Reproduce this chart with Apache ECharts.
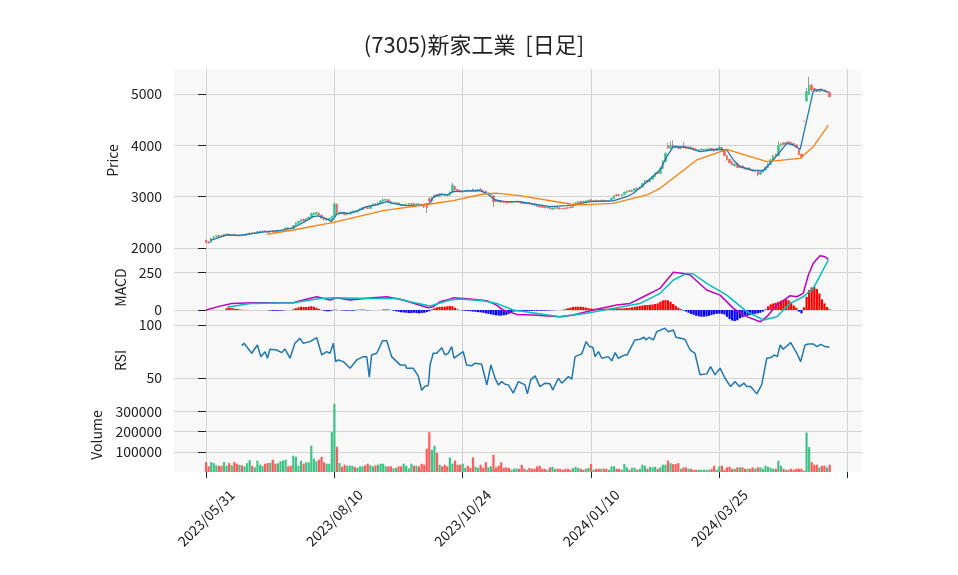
<!DOCTYPE html>
<html>
<head>
<meta charset="utf-8">
<title>(7305)新家工業 [日足]</title>
<script src="https://cdn.jsdelivr.net/npm/echarts@6/dist/echarts.min.js"></script>
<style>
html, body { margin: 0; padding: 0; background: #fff; }
#chart { width: 958px; height: 575px; }
</style>
</head>
<body>
<div id="chart"></div>
<script>
// 営業日
const dates = [
  '2023/05/31',
  '2023/06/01','2023/06/02','2023/06/05','2023/06/06','2023/06/07','2023/06/08','2023/06/09','2023/06/12','2023/06/13','2023/06/14',
  '2023/06/15','2023/06/16','2023/06/19','2023/06/20','2023/06/21','2023/06/22','2023/06/23','2023/06/26','2023/06/27','2023/06/28',
  '2023/06/29','2023/06/30',
  '2023/07/03','2023/07/04','2023/07/05','2023/07/06','2023/07/07','2023/07/10','2023/07/11','2023/07/12','2023/07/13','2023/07/14',
  '2023/07/18','2023/07/19','2023/07/20','2023/07/21','2023/07/24','2023/07/25','2023/07/26','2023/07/27','2023/07/28','2023/07/31',
  '2023/08/01','2023/08/02','2023/08/03','2023/08/04','2023/08/07','2023/08/08','2023/08/09','2023/08/10','2023/08/14','2023/08/15',
  '2023/08/16','2023/08/17','2023/08/18','2023/08/21','2023/08/22','2023/08/23','2023/08/24','2023/08/25','2023/08/28','2023/08/29',
  '2023/08/30','2023/08/31',
  '2023/09/01','2023/09/04','2023/09/05','2023/09/06','2023/09/07','2023/09/08','2023/09/11','2023/09/12','2023/09/13','2023/09/14',
  '2023/09/15','2023/09/19','2023/09/20','2023/09/21','2023/09/22','2023/09/25','2023/09/26','2023/09/27','2023/09/28','2023/09/29',
  '2023/10/02','2023/10/03','2023/10/04','2023/10/05','2023/10/06','2023/10/10','2023/10/11','2023/10/12','2023/10/13','2023/10/16',
  '2023/10/17','2023/10/18','2023/10/19','2023/10/20','2023/10/23','2023/10/24','2023/10/25','2023/10/26','2023/10/27','2023/10/30',
  '2023/10/31',
  '2023/11/01','2023/11/02','2023/11/06','2023/11/07','2023/11/08','2023/11/09','2023/11/10','2023/11/13','2023/11/14','2023/11/15',
  '2023/11/16','2023/11/17','2023/11/20','2023/11/21','2023/11/22','2023/11/24','2023/11/27','2023/11/28','2023/11/29','2023/11/30',
  '2023/12/01','2023/12/04','2023/12/05','2023/12/06','2023/12/07','2023/12/08','2023/12/11','2023/12/12','2023/12/13','2023/12/14',
  '2023/12/15','2023/12/18','2023/12/19','2023/12/20','2023/12/21','2023/12/22','2023/12/25','2023/12/26','2023/12/27','2023/12/28',
  '2023/12/29',
  '2024/01/04','2024/01/05','2024/01/09','2024/01/10','2024/01/11','2024/01/12','2024/01/15','2024/01/16','2024/01/17','2024/01/18',
  '2024/01/19','2024/01/22','2024/01/23','2024/01/24','2024/01/25','2024/01/26','2024/01/29','2024/01/30','2024/01/31',
  '2024/02/01','2024/02/02','2024/02/05','2024/02/06','2024/02/07','2024/02/08','2024/02/09','2024/02/13','2024/02/14','2024/02/15',
  '2024/02/16','2024/02/19','2024/02/20','2024/02/21','2024/02/22','2024/02/26','2024/02/27','2024/02/28','2024/02/29',
  '2024/03/01','2024/03/04','2024/03/05','2024/03/06','2024/03/07','2024/03/08','2024/03/11','2024/03/12','2024/03/13','2024/03/14',
  '2024/03/15','2024/03/18','2024/03/19','2024/03/21','2024/03/22','2024/03/25','2024/03/26','2024/03/27','2024/03/28','2024/03/29',
  '2024/04/01','2024/04/02','2024/04/03','2024/04/04','2024/04/05','2024/04/08','2024/04/09','2024/04/10','2024/04/11','2024/04/12',
  '2024/04/15','2024/04/16','2024/04/17','2024/04/18','2024/04/19','2024/04/22','2024/04/23','2024/04/24','2024/04/25','2024/04/26',
  '2024/04/30',
  '2024/05/01','2024/05/02','2024/05/07','2024/05/08','2024/05/09','2024/05/10','2024/05/13','2024/05/14','2024/05/15','2024/05/16',
  '2024/05/17','2024/05/20','2024/05/21','2024/05/22','2024/05/23','2024/05/24','2024/05/27','2024/05/28'
];

// 始値・終値・安値・高値
const openP = [
  2150,2120,2110,2190,2220,2250,2240,2230,2250,2270, 2240,2265,2250,2235,2255,2240,2250,2265,2295,2280,
  2290,2310,2320,2335,2320,2305,2330,2320,2300,2325, 2340,2355,2395,2380,2375,2440,2480,2510,2560,2530,
  2565,2600,2650,2660,2680,2640,2590,2545,2560,2560, 2610,2850,2670,2700,2680,2650,2670,2690,2720,2700,
  2730,2750,2800,2790,2770,2820,2860,2840,2870,2910, 2930,2940,2900,2860,2870,2880,2850,2830,2840,2850,
  2850,2870,2840,2860,2840,2830,2830,2960,2920,2990, 3040,3010,3060,3050,3040,3030,3090,3200,3140,3120,
  3090,3100,3130,3120,3140,3100,3120,3150,3120,3110, 3050,3030,3020,2940,2930,2920,2910,2900,2900,2880,
  2890,2895,2910,2900,2880,2860,2880,2865,2855,2840, 2820,2810,2800,2780,2790,2750,2770,2790,2780,2770,
  2780,2790,2800,2790,2830,2870,2910,2910,2895,2910, 2940,2910,2930,2925,2910,2935,2925,2910,2920,2960,
  3040,3040,3020,3040,3080,3120,3100,3120,3170,3150, 3190,3250,3320,3290,3340,3390,3480,3450,3550,3690,
  3990,3940,4010,3990,3980,3940,3990,3970,3940,3970, 3950,3930,3900,3910,3900,3910,3920,3940,3930,3900,
  3930,3960,3900,3800,3730,3680,3600,3640,3570,3600, 3570,3530,3560,3530,3490,3500,3440,3480,3520,3570,
  3630,3720,3830,3800,3990,4050,4020,4070,4060,4040, 4010,3920,3830,4475,4870,4990,5170,5110,5090,5050,
  5100,5080,5040,5040
];
const closeP = [
  2110,2100,2190,2220,2240,2230,2225,2260,2270,2250, 2260,2245,2235,2250,2240,2255,2270,2290,2280,2295,
  2320,2325,2330,2315,2305,2325,2310,2300,2330,2345, 2360,2390,2375,2370,2440,2490,2520,2550,2530,2570,
  2600,2670,2680,2690,2640,2580,2550,2570,2580,2620, 2860,2680,2700,2670,2650,2680,2700,2720,2700,2730,
  2760,2790,2780,2770,2830,2860,2840,2880,2920,2940, 2950,2900,2870,2880,2885,2850,2830,2850,2860,2865,
  2870,2840,2860,2830,2820,2800,2790,2910,2990,3030, 3010,3050,3040,3030,3020,3090,3230,3130,3110,3090,
  3110,3120,3110,3100,3110,3130,3140,3120,3100,3060, 3070,3050,2900,2910,2900,2890,2890,2880,2880,2900,
  2905,2910,2890,2870,2865,2875,2860,2850,2835,2815, 2800,2790,2785,2795,2765,2780,2790,2770,2760,2760,
  2765,2775,2785,2830,2880,2900,2890,2895,2920,2930, 2910,2925,2915,2910,2930,2915,2910,2925,2970,3020,
  3020,3025,3040,3090,3110,3100,3130,3160,3150,3190, 3260,3310,3290,3350,3400,3460,3450,3560,3700,3850,
  3950,4000,3970,3960,3940,3980,3960,3940,3970,3940, 3920,3910,3920,3930,3920,3930,3940,3910,3890,3930,
  3970,3880,3800,3720,3660,3620,3640,3570,3600,3560, 3540,3560,3520,3500,3510,3430,3490,3530,3580,3640,
  3720,3800,3790,4000,4030,4020,4060,4040,4030,4000, 3960,3820,3770,4470,5050,5180,5080,5070,5050,5090,
  5070,5050,5060,4950
];
const lowP = [
  2100,2090,2100,2180,2210,2220,2215,2220,2240,2240, 2235,2240,2225,2230,2235,2235,2245,2260,2270,2275,
  2285,2305,2315,2310,2295,2300,2300,2290,2295,2320, 2335,2350,2365,2360,2370,2430,2470,2505,2520,2525,
  2555,2595,2640,2650,2630,2570,2540,2535,2550,2550, 2600,2660,2660,2660,2640,2640,2665,2685,2690,2695,
  2725,2745,2770,2760,2765,2815,2830,2835,2865,2905, 2920,2890,2860,2855,2860,2840,2820,2825,2835,2845,
  2845,2835,2835,2825,2810,2780,2680,2880,2910,2980, 3000,3000,3030,3020,3010,3025,3080,3120,3100,3080,
  3085,3095,3100,3090,3100,3095,3115,3110,3090,3050, 3040,3020,2800,2900,2890,2880,2880,2870,2870,2875,
  2885,2890,2880,2860,2855,2855,2850,2840,2825,2805, 2790,2780,2775,2775,2755,2740,2765,2760,2750,2750,
  2760,2770,2780,2785,2825,2865,2880,2890,2890,2905, 2900,2905,2910,2905,2905,2910,2905,2905,2915,2955,
  3010,3015,3015,3035,3075,3090,3095,3115,3140,3145, 3185,3245,3280,3285,3335,3385,3440,3445,3545,3685,
  3930,3930,3960,3950,3930,3935,3950,3930,3935,3930, 3910,3900,3895,3905,3895,3905,3915,3900,3880,3895,
  3925,3870,3790,3700,3650,3610,3590,3560,3560,3550, 3530,3520,3510,3490,3480,3400,3430,3470,3510,3560,
  3620,3710,3780,3790,3980,4010,4010,4030,4020,3990, 3950,3810,3740,4470,4850,4980,5050,5050,5040,5040,
  5060,5040,5030,4940
];
const highP = [
  2160,2130,2200,2240,2250,2260,2250,2270,2280,2280, 2270,2270,2260,2260,2265,2265,2280,2300,2305,2305,
  2330,2335,2345,2345,2330,2335,2340,2325,2340,2355, 2370,2400,2405,2390,2450,2500,2530,2560,2570,2580,
  2610,2690,2700,2710,2690,2650,2600,2580,2590,2630, 2890,2870,2710,2710,2690,2690,2710,2730,2730,2740,
  2770,2800,2810,2800,2840,2870,2870,2890,2930,2970, 2960,2950,2910,2890,2895,2890,2860,2860,2870,2875,
  2880,2880,2870,2870,2850,2840,2840,2990,3000,3040, 3050,3060,3070,3060,3050,3100,3270,3210,3150,3130,
  3120,3130,3140,3130,3160,3140,3150,3160,3130,3120, 3080,3060,3030,2950,2940,2930,2920,2910,2910,2910,
  2915,2920,2920,2905,2890,2885,2890,2870,2860,2850, 2830,2820,2810,2805,2800,2790,2800,2800,2790,2780,
  2790,2800,2810,2840,2890,2910,2920,2920,2930,2940, 2950,2935,2940,2930,2940,2940,2930,2935,2980,3030,
  3050,3050,3050,3100,3120,3130,3140,3170,3180,3200, 3270,3320,3330,3360,3410,3470,3490,3570,3710,3860,
  4050,4080,4100,4000,3990,3990,4070,3980,3980,3980, 3960,3940,3930,3940,3930,3940,3950,3950,3940,3940,
  4010,3970,3910,3810,3740,3690,3650,3650,3610,3610, 3580,3570,3570,3540,3520,3510,3500,3540,3590,3650,
  3730,3810,3840,4080,4050,4060,4070,4080,4070,4050, 4020,3930,3840,4475,5120,5340,5200,5120,5100,5100,
  5110,5090,5070,5050
];

// 出来高
const volume = [
  49000,28000,49000,44000,33000,31000,31000,49000,31000,44000, 33000,49000,41000,36000,33000,28000,44000,59000,31000,23000,
  56000,36000,30000,41000,44000,46000,61000,41000,43000,53000, 57000,61000,28000,31000,80000,75000,31000,56000,41000,48000,
  48000,130000,66000,53000,61000,75000,48000,41000,41000,197000, 337000,125000,44000,26000,36000,31000,31000,31000,25000,21000,
  28000,28000,33000,41000,33000,28000,33000,36000,41000,41000, 28000,28000,28000,18000,21000,28000,28000,41000,31000,18000,
  41000,31000,31000,28000,41000,36000,115000,197000,110000,130000, 95000,36000,28000,36000,28000,72000,41000,56000,36000,36000,
  41000,21000,31000,20000,72000,26000,21000,36000,20000,49000, 23000,28000,85000,23000,31000,48000,20000,23000,20000,11000,
  16000,18000,16000,36000,16000,11000,20000,16000,16000,28000, 31000,16000,16000,11000,23000,26000,16000,16000,16000,11000,
  16000,16000,11000,20000,26000,20000,16000,11000,16000,20000, 39000,11000,16000,16000,16000,16000,16000,11000,28000,28000,
  16000,16000,11000,39000,23000,11000,21000,21000,11000,16000, 36000,31000,16000,26000,23000,26000,16000,23000,36000,36000,
  56000,44000,39000,39000,44000,16000,23000,23000,16000,16000, 11000,11000,11000,11000,11000,11000,11000,16000,31000,11000,
  28000,31000,11000,23000,26000,16000,16000,23000,23000,23000, 16000,16000,16000,23000,16000,23000,23000,16000,31000,26000,
  20000,16000,16000,56000,31000,16000,11000,11000,16000,11000, 16000,16000,16000,6000,195000,123000,49000,36000,36000,23000,
  31000,31000,23000,36000
];

// MACDヒストグラム
const macdHist = [
  0,0,0,0,0,0,0,0,12,15, 13,10,7,4,2,1,1,0,0,0,
  0,0,0,0,-1,-4,-5,-5,-5,-4, -3,-1,0,0,5,12,18,22,20,20,
  22,25,22,15,8,2,-5,-8,-8,-4, 3,2,0,-3,-4,-4,-3,-5,-3,2,
  3,4,2,-2,-1,0,0,0,0,4, 5,4,0,-4,-8,-12,-15,-16,-18,-20,
  -20,-18,-20,-22,-20,-18,-14,-8,5,12, 18,20,22,22,25,27,25,15,5,0,
  -3,-5,-6,-8,-10,-12,-14,-15,-18,-22, -25,-28,-32,-35,-37,-37,-35,-32,-25,-18,
  -10,-8,-8,-7,-7,-6,-6,-6,-5,-5, -5,-5,-4,-4,-3,-2,-1,0,0,2,
  6,12,16,20,22,22,22,20,16,12, 10,8,8,8,8,8,9,9,10,12,
  12,11,10,12,14,15,18,22,24,27, 30,33,33,35,37,40,44,55,64,66,
  64,55,40,28,15,6,-3,-10,-18,-26, -32,-38,-42,-44,-44,-42,-38,-33,-28,-25,
  -24,-25,-30,-45,-60,-70,-73,-68,-55,-48, -42,-38,-33,-30,-25,-22,-18,-10,5,25,
  38,44,48,55,62,66,70,64,50,30, 15,-10,-22,18,88,133,150,155,140,110,
  71,44,20,4
];

// 移動平均（短期・長期）[日番号, 値]
const maShort = [
  [1.5,2150],[3.5,2180],[8,2254],[13,2245],[17,2275],[23.6,2318],[30,2350],[34,2395],[37.9,2500],[41.8,2611],
  [43.5,2628],[46,2590],[48.9,2520],[49.6,2546],[50.9,2655],[53.5,2688],[56,2670],[59,2727],[62.6,2805],[66.5,2839],
  [70.4,2903],[73,2871],[76.8,2832],[82.1,2825],[87.3,2871],[88.5,2988],[91.1,3047],[93.8,3034],[96.3,3098],[102.8,3112],
  [106.7,3117],[109.4,3067],[112.6,2936],[115.8,2910],[122.3,2904],[127.5,2858],[134,2805],[140.5,2825],[144.4,2852],[149.6,2904],
  [158.7,2917],[163.9,3000],[166.5,3067],[170.4,3229],[176.9,3521],[179.5,3780],[182.1,3975],[187.3,3964],[192.5,3878],[199,3925],
  [202.9,3911],[205.5,3716],[208.1,3585],[212.6,3520],[217.1,3507],[221,3716],[226.3,4041],[228.8,4009],[231.5,3925],[236.6,5060],
  [239.2,5095],[242.5,5036]
];
const maLong = [
  [23.6,2267],[34,2351],[49.6,2501],[69,2727],[87.3,2858],[96.3,2922],[108,3053],[113,3068],[122.3,3020],[141.8,2858],
  [145.7,2839],[158.7,2872],[171.7,3034],[176.9,3164],[191.2,3716],[202.9,3924],[218.5,3683],[231.5,3749],[236.6,3975],[242.5,4398]
];

// MACD・シグナル [日番号, 値]
const macdLine = [
  [0,0],[5.4,26],[10,44],[18.4,48],[34,48],[37.9,66],[43.1,88],[48.3,66],[50.9,82],[56.1,66],
  [62.6,78],[70.4,88],[76.8,66],[82.1,38],[86.6,15],[88.5,22],[91.1,55],[95,71],[96.3,82],[102.8,73],
  [109.4,62],[113.2,33],[115.8,0],[121,-29],[127.5,-33],[137.9,-44],[143.1,-33],[150.9,0],[160,33],[165.2,44],
  [170.4,88],[176.9,144],[182.1,250],[186,243],[188.6,232],[195.1,133],[200.3,99],[205.5,11],[210.7,-44],[215.9,-78],
  [218.5,-44],[222.4,33],[227.6,95],[230.2,88],[232.7,111],[234.7,232],[236.6,310],[239.2,360],[241.2,353],[242.5,336]
];
const signalLine = [
  [8.3,18],[17.1,44],[34,48],[44.4,77],[49.6,82],[63.9,77],[74.3,77],[79.5,55],[87.3,27],[95,66],
  [98.9,73],[108,62],[113.2,44],[119.7,0],[137.9,-44],[148.3,-22],[158.7,11],[169.1,44],[176.9,111],[182.1,199],
  [187.3,243],[189.9,239],[195.1,177],[202.9,99],[210.7,-11],[217.2,-66],[222.4,-44],[227.6,44],[232.7,88],[236.6,144],
  [242.5,332]
];

// RSI [日番号, 値]
const rsiLine = [
  [13.9,80.5],[14.8,82.7],[17.8,73.3],[20,81.1],[21.3,70.1],[23,74.8],[23.9,68.6],[24.9,77.1],[27.5,76.4],[29.5,73.9],
  [30.7,77.4],[32.7,68.6],[34.6,82.7],[35.3,81.8],[36.6,87.4],[37.9,82.7],[40.5,84.3],[43.1,88],[45.1,71.7],[47,74.8],
  [48.3,73.3],[49.6,82.7],[50.5,65.4],[51.5,67],[53.5,65.4],[56.1,59.2],[58.7,67],[61.3,70.1],[62.6,70.1],[63.6,50.7],
  [64.5,71.7],[66.5,73.3],[68.8,85.2],[70.4,85.2],[72.3,70.1],[75.6,62.3],[77.5,62.3],[78.2,59.2],[80.7,59.2],[82.7,51.6],
  [84,38.4],[85.3,42.2],[86.6,42.8],[87.3,62.3],[88.5,73.3],[89.9,73.3],[91.8,78.6],[93.1,71.7],[94.4,73.3],[95.7,79.6],
  [96.6,68.6],[100.2,74.8],[101.5,62.3],[103.5,61.4],[104.8,63.9],[107.4,62.9],[109.4,43.4],[111,62.3],[112.6,49.8],[113.9,43.4],
  [115.2,46.5],[116.5,44],[117.8,43.4],[119.7,35.6],[121.7,46.5],[124.3,43.4],[125.2,34.9],[126.5,48.1],[128.2,51.9],[130.1,41.8],
  [132.1,45],[134,44.4],[135.1,38.7],[137.3,49.7],[138.6,45],[141.2,51.2],[142.5,48.8],[143.8,70.1],[146.4,72.7],[148.1,84.3],
  [149.4,79.6],[150.7,79],[151.6,70.1],[152.9,74.8],[154.2,68.6],[156.7,70.1],[158.1,66.1],[159.4,73.9],[160.6,68.6],[163.2,71.7],
  [164.1,71.7],[167.1,85.9],[169.1,86.5],[170.7,88.4],[171.4,85.9],[172.7,88.4],[174.3,85.9],[175.6,93.7],[178.8,96.9],[180.1,93.7],
  [182.1,95.3],[183.1,88.4],[186.6,86.5],[188.6,76.4],[190.5,73.3],[192.5,52.9],[195.1,53.8],[196.6,60.7],[198.3,52.9],[200.3,59.2],
  [202.2,49.7],[204.4,41.8],[206.1,46.5],[207.8,41.8],[209.6,45],[210.7,41.8],[212.2,41.8],[214.6,34.9],[216.5,43.4],[218.5,68.6],
  [220.4,69.5],[221.3,71.7],[222.6,70.1],[223.7,81.1],[224.9,77.1],[227.8,83.3],[230.2,73.3],[231.7,65.4],[233.4,81.1],[234.7,82.1],
  [236.6,82.1],[238,79.6],[239.5,81.7],[241.2,79.6],[242.9,79]
];

// 目盛り
const xTicks = [0, 50, 100, 150, 200, 250];
const priceTicks = [2000, 3000, 4000, 5000];
const macdTicks = [0, 250];
const rsiTicks = [50, 100];
const volTicks = [100000, 200000, 300000];

const UP = '#3fc386';
const DOWN = '#ff5b5b';
const WICK = '#9c9c9c';
const GRID_LINE = '#d3d3d3';
const TEXT = '#222';
const FONT = "'Noto Sans CJK JP', 'Noto Sans', sans-serif";

const idx = dates.map((d, i) => i);
const wickData = idx.map(i => [i, openP[i], closeP[i], lowP[i], highP[i]]);
const bodyData = idx.map(i => [i, openP[i], closeP[i], Math.min(openP[i], closeP[i]), Math.max(openP[i], closeP[i])]);
const volData = idx.map(i => ({
  value: [i, volume[i]],
  itemStyle: { color: closeP[i] >= openP[i] ? UP : DOWN }
}));
const histData = idx.map(i => ({
  value: [i, macdHist[i]],
  itemStyle: { color: macdHist[i] >= 0 ? '#ff0000' : '#0000ff' }
}));

const grids = [
  { left: 174, right: 96, top: 69, height: 183 },
  { left: 174, right: 96, top: 252, height: 71 },
  { left: 174, right: 96, top: 323, height: 75 },
  { left: 174, right: 96, top: 398, height: 74 }
].map(g => Object.assign(g, { show: true, backgroundColor: '#f8f8f8', borderWidth: 0 }));

function xAx(gi, bottom) {
  return {
    type: 'value', gridIndex: gi, min: -12.5, max: 255.6,
    axisLine: { show: false },
    axisTick: { show: bottom, customValues: xTicks, length: 6, lineStyle: { color: TEXT } },
    axisLabel: {
      show: bottom, customValues: xTicks, rotate: 45, align: 'center', verticalAlign: 'middle',
      margin: 46, fontSize: 14, color: TEXT, fontFamily: FONT,
      formatter: v => dates[v] || ''
    },
    splitLine: { show: true, lineStyle: { color: GRID_LINE, width: 1 } }
  };
}

function yAx(gi, min, max, ticks, name, gap) {
  return {
    type: 'value', gridIndex: gi, min: min, max: max,
    name: name, nameLocation: 'middle', nameGap: gap, nameRotate: 90,
    nameTextStyle: { fontSize: 14, color: TEXT, fontFamily: FONT },
    axisLine: { show: false },
    axisTick: { show: true, customValues: ticks, length: 8, lineStyle: { color: TEXT } },
    axisLabel: { customValues: ticks, fontSize: 14, color: TEXT, margin: 12, fontFamily: FONT, formatter: v => String(v) },
    splitLine: { show: true, lineStyle: { color: GRID_LINE, width: 1 } }
  };
}

const chart = echarts.init(document.getElementById('chart'));
chart.setOption({
  animation: false,
  backgroundColor: '#fff',
  textStyle: { fontFamily: FONT },
  title: {
    text: '(7305)新家工業  [日足]',
    left: 469, top: 29, textAlign: 'center',
    textStyle: { fontSize: 22, fontWeight: 'normal', color: TEXT, fontFamily: FONT }
  },
  grid: grids,
  xAxis: [xAx(0, false), xAx(1, false), xAx(2, false), xAx(3, true)],
  yAxis: [
    yAx(0, 1922, 5490, priceTicks, 'Price', 48),
    yAx(1, -86, 385, macdTicks, 'MACD', 42),
    yAx(2, 31, 101.9, rsiTicks, 'RSI', 42),
    yAx(3, 0, 366000, volTicks, 'Volume', 70)
  ],
  series: [
    {
      type: 'candlestick', xAxisIndex: 0, yAxisIndex: 0, data: wickData,
      encode: { x: 0, y: [1, 2, 3, 4] }, barWidth: 1,
      itemStyle: { color: WICK, color0: WICK, borderColor: WICK, borderColor0: WICK, borderWidth: 1 }
    },
    {
      type: 'candlestick', xAxisIndex: 0, yAxisIndex: 0, data: bodyData,
      encode: { x: 0, y: [1, 2, 3, 4] }, barWidth: 2,
      itemStyle: { color: UP, color0: DOWN, borderColor: UP, borderColor0: DOWN, borderWidth: 0.6 }
    },
    {
      type: 'line', xAxisIndex: 0, yAxisIndex: 0, data: maShort, showSymbol: false,
      lineStyle: { color: '#1f77b4', width: 1.3 }, z: 3
    },
    {
      type: 'line', xAxisIndex: 0, yAxisIndex: 0, data: maLong, showSymbol: false,
      lineStyle: { color: '#ff7f0e', width: 1.3 }, z: 3
    },
    {
      type: 'bar', xAxisIndex: 1, yAxisIndex: 1, data: histData, barWidth: 2.2
    },
    {
      type: 'line', xAxisIndex: 1, yAxisIndex: 1, data: macdLine, showSymbol: false,
      lineStyle: { color: '#bf00bf', width: 1.5 }, z: 3
    },
    {
      type: 'line', xAxisIndex: 1, yAxisIndex: 1, data: signalLine, showSymbol: false,
      lineStyle: { color: '#00bfbf', width: 1.5 }, z: 3
    },
    {
      type: 'line', xAxisIndex: 2, yAxisIndex: 2, data: rsiLine, showSymbol: false,
      lineStyle: { color: '#1f77b4', width: 1.5 }
    },
    {
      type: 'bar', xAxisIndex: 3, yAxisIndex: 3, data: volData, barWidth: 2.2
    }
  ]
});
</script>
</body>
</html>
